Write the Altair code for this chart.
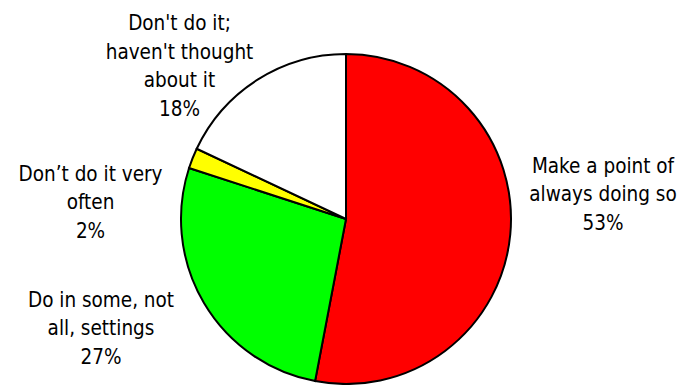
import altair as alt
import pandas as pd

categories = [
    "Make a point of always doing so",
    "Do in some, not all, settings",
    "Don’t do it very often",
    "Don't do it; haven't thought about it",
]
label_lines = [
    ["Make a point of", "always doing so"],
    ["Do in some, not", "all, settings"],
    ["Don’t do it very", "often"],
    ["Don't do it;", "haven't thought", "about it"],
]
values = [53, 27, 2, 18]
colors = ["#FF0000", "#00FF00", "#FFFF00", "#FFFFFF"]

df = pd.DataFrame({
    "category": categories,
    "value": values,
    "order": list(range(len(categories))),
    "label": ["\n".join(lines + [f"{v}%"]) for lines, v in zip(label_lines, values)],
})

FONT = "DejaVu Sans Condensed, DejaVu Sans"

pie = alt.Chart(df).mark_arc(outerRadius=165, stroke="black", strokeWidth=2).encode(
    theta=alt.Theta("value:Q", stack=True),
    order=alt.Order("order:Q"),
    color=alt.Color("category:N", scale=alt.Scale(domain=categories, range=colors), legend=None),
    x=alt.value(346),
    y=alt.value(219),
)

label_pos = [(603, 172.7), (101, 306.7), (90.5, 180.7), (179.5, 30)]

layers = [pie]
for cat, (px, py) in zip(categories, label_pos):
    layers.append(
        alt.Chart(df)
        .transform_filter(alt.FieldEqualPredicate(field="category", equal=cat))
        .mark_text(align="center", baseline="alphabetic", lineBreak="\n", lineHeight=28.5,
                   font=FONT, fontSize=20.5, color="black")
        .encode(text="label:N", x=alt.value(px), y=alt.value(py))
    )

chart = alt.layer(*layers).properties(
    width=681, height=385, autosize=alt.AutoSizeParams(type="none"), padding=0,
    background="white",
).configure_view(strokeWidth=0)

chart.save("out.html", embed_options={"renderer": "svg", "actions": False})
